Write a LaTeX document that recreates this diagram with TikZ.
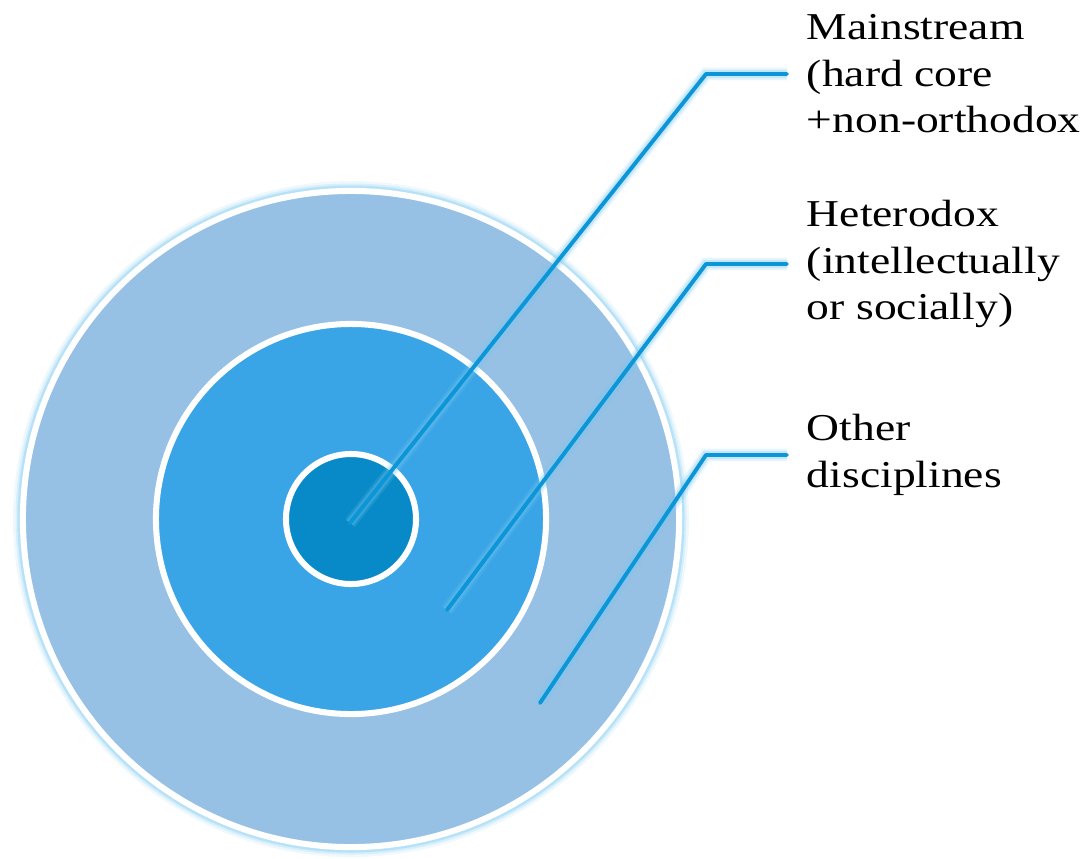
\documentclass[tikz,border=0pt]{standalone}
\usepackage{fontspec}
\setmainfont[FakeStretch=1.2]{Liberation Serif}
\usetikzlibrary{positioning, calc}
\definecolor{ringouter}{RGB}{150,192,228}
\definecolor{ringmid}{RGB}{58,165,230}
\definecolor{ringcore}{RGB}{8,138,200}
\definecolor{leaderblue}{RGB}{12,150,215}
\definecolor{glowblue}{RGB}{120,200,240}

\begin{document}
\begin{tikzpicture}[
    x=0.025cm, y=-0.025cm,
    ring/.style={circle, draw=white, line width=4.3pt, inner sep=0pt},
    halo/.style={draw=glowblue, opacity=0.35},
    leader/.style={draw=leaderblue, line width=2.8pt, line join=round, line cap=round,
                   preaction={draw=glowblue, line width=9pt, opacity=0.18},
                   preaction={draw=glowblue, line width=6pt, opacity=0.3}},
    lbl/.style={align=left, inner xsep=14pt, inner ysep=0pt,
                font=\fontsize{27}{33}\selectfont}
  ]
    \useasboundingbox (0,0) rectangle (1091,858);

    % soft halo behind the outer ring
    \foreach \w/\o in {16/0.12, 11/0.2, 7/0.35}
      \draw[halo, line width=\w*0.711pt, opacity=\o] (351,519) circle (330);
    \draw[halo, line width=8pt, opacity=0.2] (351,519) circle (197);

    \node[ring, fill=ringouter, minimum size=16.4cm]  (outer) at (351,519) {};
    \node[ring, fill=ringmid,   minimum size=9.75cm]  (mid)   at (351,519) {};
    \node[ring, fill=ringcore,  minimum size=3.25cm]  (core)  at (351,519) {};

    \node[lbl, anchor=west] (mainlbl) at (787,74)  {Mainstream\\(hard core\\+non-orthodox};
    \node[lbl, anchor=west] (hetlbl)  at (787,264) {Heterodox\\(intellectually\\or socially)};
    \node[lbl, anchor=west] (othlbl)  at (787,455) {Other\\disciplines};

    \coordinate (coretip) at (350,523);
    \coordinate (midtip)  at (447,610);
    \coordinate (outtip)  at (540,703);
    \coordinate (mainknee) at (706,74);
    \coordinate (hetknee)  at (706,264);
    \coordinate (othknee)  at (706,455);

    \draw[leader] (coretip) -- (mainknee) -- (mainlbl.west);
    \draw[leader] (midtip)  -- (hetknee)  -- (hetlbl.west);
    \draw[leader] (outtip)  -- (othknee)  -- (othlbl.west);
\end{tikzpicture}
\end{document}
